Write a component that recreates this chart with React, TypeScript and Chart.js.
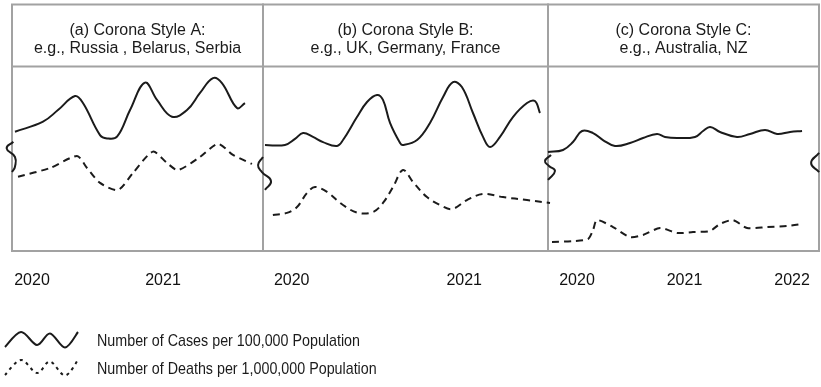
import React, { useEffect, useRef } from "react";
import { Chart, registerables } from "chart.js";

Chart.register(...registerables);

// ---- Text ----
const PANEL_TITLES = ["(a) Corona Style A:", "(b) Corona Style B:", "(c) Corona Style C:"];
const PANEL_EXAMPLES = ["e.g., Russia , Belarus, Serbia", "e.g., UK, Germany, France", "e.g., Australia, NZ"];
const YEAR_TICKS_A = [2020, 2021];
const YEAR_TICKS_B = [2020, 2021];
const YEAR_TICKS_C = [2020, 2021, 2022];
const LEGEND_LABELS = ["Number of Cases per 100,000 Population", "Number of Deaths per 1,000,000 Population"];

// ---- Data: x = months since Jan 2020, y = relative level (0-100) ----
const CASES_A = [
  [-1.56, 64.8], [1.01, 70.3], [2.38, 76.6], [3.94, 84.2], [4.67, 80.4], [6.23, 63.0], [6.87, 61.2],
  [7.79, 62.1], [8.98, 76.6], [10.35, 91.5], [11.45, 82.1], [12.82, 73.0], [14.2, 76.6], [15.39, 85.9],
  [16.58, 94.0], [17.4, 91.3], [18.78, 77.7], [19.51, 80.4],
];
const DEATHS_A = [
  [-1.28, 40.4], [1.65, 45.1], [4.12, 51.6], [5.04, 45.1], [6.23, 37.0], [7.88, 33.2], [9.25, 42.4],
  [11.08, 54.0], [12.37, 47.8], [13.37, 44.0], [15.39, 51.1], [17.04, 58.2], [18.41, 52.2], [20.15, 47.3],
];
const EDGE_A = [[-1.71, 59.4], [-2.32, 55.8], [-1.56, 51.1], [-1.56, 45.8], [-1.83, 42.9]];

const CASES_B = [
  [-1.86, 57.6], [-0.47, 57.6], [0.23, 60.9], [0.79, 64.1], [1.48, 62.0], [2.18, 59.2], [3.15, 57.1],
  [3.57, 60.3], [4.54, 72.8], [5.24, 81.0], [5.93, 84.8], [6.35, 82.1], [6.84, 69.6], [7.54, 58.7],
  [7.74, 57.6], [8.72, 60.3], [9.62, 69.6], [10.53, 83.7], [11.22, 91.8], [11.84, 89.1], [12.61, 75.0],
  [13.31, 62.0], [13.8, 56.5], [14.49, 62.0], [15.39, 72.8], [16.37, 80.4], [16.92, 81.5], [17.27, 75.0],
];
const DEATHS_B = [
  [-1.31, 19.6], [-0.33, 20.7], [0.37, 23.9], [1.06, 31.5], [1.62, 34.8], [2.46, 32.1], [3.57, 25.0],
  [4.61, 20.7], [5.66, 21.2], [6.35, 26.1], [7.05, 34.8], [7.74, 44.0], [8.44, 37.5], [9.41, 29.3],
  [10.32, 25.0], [11.15, 22.8], [12.19, 27.7], [13.31, 31.0], [14.7, 29.3], [16.37, 27.7], [17.97, 26.1],
];
const EDGE_B = [[-2.0, 51.1], [-2.34, 46.7], [-2.07, 42.9], [-1.44, 38.0], [-1.86, 33.2]];

const CASES_C = [
  [-3.24, 53.8], [-1.56, 54.9], [-0.45, 59.2], [0.56, 65.2], [1.79, 64.1], [2.9, 60.3], [4.24, 57.1],
  [5.92, 58.7], [7.37, 61.4], [8.93, 63.6], [9.82, 62.0], [11.16, 61.4], [13.17, 62.0], [14.07, 65.2],
  [14.85, 67.4], [15.96, 64.7], [17.86, 62.0], [19.31, 63.6], [20.99, 65.8], [22.33, 63.6], [23.78, 64.7],
  [25.12, 65.2],
];
const DEATHS_C = [
  [-2.79, 4.9], [-0.45, 5.4], [1.23, 6.5], [1.79, 11.4], [2.23, 16.8], [4.02, 13.0], [5.92, 7.6],
  [7.37, 8.7], [9.27, 12.5], [11.16, 9.8], [12.95, 10.3], [14.85, 10.9], [15.96, 14.7], [17.41, 16.8],
  [18.98, 12.5], [21.21, 13.0], [23.44, 13.6], [25.12, 14.7],
];
const EDGE_C = [[-2.9, 52.2], [-3.57, 48.9], [-3.13, 46.2], [-2.46, 43.5], [-3.24, 38.6]];
const EDGE_R = [[27.02, 53.3], [26.13, 47.8], [27.02, 42.9]];

const FONT = "'Liberation Sans', Arial, sans-serif";
const INK = "#1b1b1b";
const FRAME = "#a2a2a2";
const HEADER_H = 62.5;

const toXY = (arr: number[][]) => arr.map(([x, y]) => ({ x, y }));

function smooth(ctx: CanvasRenderingContext2D, pts: number[][]) {
  ctx.moveTo(pts[0][0], pts[0][1]);
  for (let i = 0; i < pts.length - 1; i++) {
    const p0 = pts[i - 1] || pts[i];
    const p1 = pts[i];
    const p2 = pts[i + 1];
    const p3 = pts[i + 2] || p2;
    ctx.bezierCurveTo(
      p1[0] + (p2[0] - p0[0]) / 6, p1[1] + (p2[1] - p0[1]) / 6,
      p2[0] - (p3[0] - p1[0]) / 6, p2[1] - (p3[1] - p1[1]) / 6,
      p2[0], p2[1]
    );
  }
}

const framePlugin = {
  id: "frame",
  beforeDatasetsDraw(chart: any) {
    const ctx = chart.ctx;
    const { top, bottom } = chart.chartArea;
    const headTop = top - HEADER_H;
    ctx.save();
    ctx.strokeStyle = FRAME;
    ctx.lineWidth = 2;
    ["xa", "xb", "xc"].forEach((id, i) => {
      const s = chart.scales[id];
      ctx.strokeRect(s.left, headTop, s.right - s.left, bottom - headTop);
      ctx.beginPath();
      ctx.moveTo(s.left, top - 0.5);
      ctx.lineTo(s.right, top - 0.5);
      ctx.stroke();
      const cx = (s.left + s.right) / 2;
      ctx.fillStyle = INK;
      ctx.font = `16px ${FONT}`;
      ctx.textAlign = "center";
      ctx.textBaseline = "alphabetic";
      ctx.fillText(PANEL_TITLES[i], cx, headTop + 30.5);
      ctx.fillText(PANEL_EXAMPLES[i], cx, headTop + 48.5);
    });
    ctx.restore();
  },
  afterDraw(chart: any) {
    const ctx = chart.ctx;
    const wave = [[0, 15], [16, 0], [32, 13], [45, 1.5], [60, 15.5], [73, 0]];
    const rows = [
      { y: 332, dash: [] as number[], baseline: 345.5 },
      { y: 360, dash: [3, 4], baseline: 374 },
    ];
    ctx.save();
    ctx.strokeStyle = INK;
    ctx.lineWidth = 2;
    rows.forEach((r) => {
      ctx.setLineDash(r.dash);
      ctx.beginPath();
      smooth(ctx, wave.map(([x, y]) => [5 + x, r.y + y]));
      ctx.stroke();
    });
    ctx.setLineDash([]);
    ctx.font = `17px ${FONT}`;
    ctx.fillStyle = INK;
    ctx.textAlign = "left";
    ctx.textBaseline = "alphabetic";
    const k = 263 / ctx.measureText(LEGEND_LABELS[0]).width;
    rows.forEach((r, i) => {
      ctx.save();
      ctx.translate(97, r.baseline);
      ctx.scale(k, 1);
      ctx.fillText(LEGEND_LABELS[i], 0, 0);
      ctx.restore();
    });
    ctx.restore();
  },
};

function xScale(years: number[], min: number, max: number, weight: number) {
  return {
    type: "linear",
    position: "bottom",
    stack: "panels",
    stackWeight: weight,
    min,
    max,
    grid: { display: false, drawTicks: false },
    border: { display: false },
    ticks: {
      padding: 20,
      autoSkip: false,
      maxRotation: 0,
      minRotation: 0,
      color: "#111",
      font: { family: FONT, size: 16 },
      callback: (v: number) => String(Math.round(2020 + v / 12)),
    },
    afterBuildTicks: (s: any) => {
      s.ticks = years.map((yr) => ({ value: (yr - 2020) * 12 }));
    },
    afterFit: (s: any) => {
      s.height = 136;
      s.paddingLeft = 0;
      s.paddingRight = 0;
    },
  };
}

function line(label: string, data: number[][], axis: string, dashed: boolean, tension = 0.4) {
  return {
    label,
    data: toXY(data),
    xAxisID: axis,
    yAxisID: "y",
    borderColor: INK,
    borderWidth: 2,
    borderDash: dashed ? [7, 5] : [],
    pointRadius: 0,
    tension,
    fill: false,
    clip: false,
  };
}

export default function App() {
  const ref = useRef<HTMLCanvasElement>(null);
  useEffect(() => {
    if (!ref.current) return;
    const chart = new Chart(ref.current, {
      type: "line",
      data: {
        datasets: [
          line(LEGEND_LABELS[0], CASES_A, "xa", false),
          line(LEGEND_LABELS[1], DEATHS_A, "xa", true, 0.25),
          line("", EDGE_A, "xa", false, 0.5),
          line(LEGEND_LABELS[0], CASES_B, "xb", false),
          line(LEGEND_LABELS[1], DEATHS_B, "xb", true, 0.35),
          line("", EDGE_B, "xb", false, 0.5),
          line(LEGEND_LABELS[0], CASES_C, "xc", false),
          line(LEGEND_LABELS[1], DEATHS_C, "xc", true, 0.25),
          line("", EDGE_C, "xc", false, 0.5),
          line("", EDGE_R, "xc", false, 0.5),
        ],
      } as any,
      options: {
        responsive: false,
        animation: false,
        layout: { padding: { left: 12, right: 2, top: 67, bottom: 0 } },
        plugins: { legend: { display: false }, tooltip: { enabled: false } },
        events: [],
        scales: {
          xa: xScale(YEAR_TICKS_A, -1.832, 21.16, 251),
          xb: xScale(YEAR_TICKS_B, -1.997, 17.83, 285),
          xc: xScale(YEAR_TICKS_C, -3.237, 27.01, 271),
          y: { type: "linear", display: false, min: 0, max: 100 },
        } as any,
      },
      plugins: [framePlugin],
    });
    return () => chart.destroy();
  }, []);
  return (
    <div style={{ position: "fixed", left: 0, top: 0, width: 821, height: 387, background: "#fff" }}>
      <canvas ref={ref} width={821} height={387} style={{ display: "block" }} />
    </div>
  );
}
